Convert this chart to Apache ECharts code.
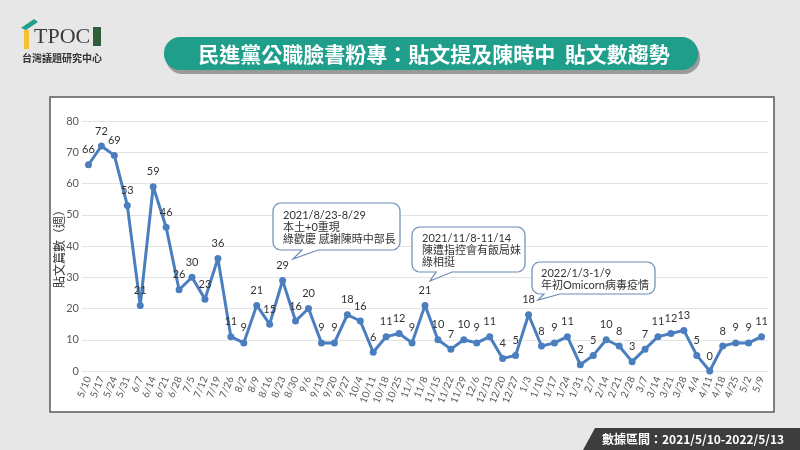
<!DOCTYPE html>
<html>
<head>
<meta charset="utf-8">
<script src="https://cdn.jsdelivr.net/npm/echarts@6/dist/echarts.min.js"></script>
<style>html,body{margin:0;padding:0;background:#e7e7e7;}#c{width:800px;height:450px;}</style>
</head>
<body>
<div id="c"></div>
<script>
const categories = ['5/10','5/17','5/24','5/31','6/7','6/14','6/21','6/28','7/5','7/12','7/19','7/26','8/2','8/9','8/16','8/23','8/30','9/6','9/13','9/20','9/27','10/4','10/11','10/18','10/25','11/1','11/8','11/15','11/22','11/29','12/6','12/13','12/20','12/27','1/3','1/10','1/17','1/24','1/31','2/7','2/14','2/21','2/28','3/7','3/14','3/21','3/28','4/4','4/11','4/18','4/25','5/2','5/9'];
const posts = [66,72,69,53,21,59,46,26,30,23,36,11,9,21,15,29,16,20,9,9,18,16,6,11,12,9,21,10,7,10,9,11,4,5,18,8,9,11,2,5,10,8,3,7,11,12,13,5,0,8,9,9,11];
const yTicks = [0,10,20,30,40,50,60,70,80];
const titleText = '民進黨公職臉書粉專：貼文提及陳時中  貼文數趨勢';
const yName = '貼文篇數（週）';
const footerText = '數據區間：2021/5/10-2022/5/13';
const notes = [
  ['2021/8/23-8/29','本土+0重現','綠歡慶 感謝陳時中部長'],
  ['2021/11/8-11/14','陳遭指控會有飯局妹','綠相挺'],
  ['2022/1/3-1/9','年初Omicorn病毒疫情']
];

const FONT = "Lato, 'Noto Sans CJK TC', sans-serif";

function arcPts(cx,cy,r,a0,a1){
  const pts=[]; const n=6;
  for(let k=0;k<=n;k++){const a=a0+(a1-a0)*k/n; pts.push([cx+r*Math.cos(a), cy+r*Math.sin(a)]);}
  return pts;
}
function callout(x,y,w,h,r,b1,b2,tx,ty){
  const P=Math.PI; let pts=[];
  pts = pts.concat(arcPts(x+r,y+r,r,P,1.5*P));
  pts = pts.concat(arcPts(x+w-r,y+r,r,1.5*P,2*P));
  pts = pts.concat(arcPts(x+w-r,y+h-r,r,0,0.5*P));
  pts.push([b2,y+h],[tx,ty],[b1,y+h]);
  pts = pts.concat(arcPts(x+r,y+h-r,r,0.5*P,P));
  return pts;
}
const boxes = [
  {x:273,y:203,w:127,h:47,b1:302,b2:318,tx:293,ty:259,t:283,ly:215},
  {x:412,y:227,w:113,h:45,b1:436,b2:452,tx:430,ty:281,t:422,ly:238},
  {x:532,y:262,w:123,h:32,b1:544,b2:560,tx:538,ty:300,t:541,ly:273}
];
const graphics = [
  {type:'rect', z:-10, shape:{x:50,y:97,width:724,height:315}, style:{fill:'#ffffff', stroke:'#5a5a5a', lineWidth:1.5}},
  {type:'rect', z:-5, shape:{x:166,y:41,width:534,height:33,r:16}, style:{fill:'#9a9a9a'}},
  {type:'rect', z:-4, shape:{x:164,y:37,width:534,height:33,r:16}, style:{fill:'#1f9e8b'}},
  {type:'text', z:-3, x:434, y:54, style:{text:titleText, fill:'#ffffff', font:"bold 21px 'Noto Sans CJK TC', sans-serif", align:'center', verticalAlign:'middle'}},
  {type:'polygon', shape:{points:[[21,28],[34,19],[38,22],[26,30]]}, style:{fill:'#1fa08a'}},
  {type:'rect', shape:{x:24,y:30,width:5,height:19}, style:{fill:'#f1c232'}},
  {type:'text', x:34, y:37, style:{text:'TPOC', fill:'#3a3a3a', font:"22px 'Liberation Serif', serif", verticalAlign:'middle'}},
  {type:'rect', shape:{x:93,y:27,width:8,height:19}, style:{fill:'#2e5e3a'}},
  {type:'text', x:22, y:58, style:{text:'台灣議題研究中心', fill:'#333333', font:"bold 10px 'Noto Sans CJK TC', sans-serif", verticalAlign:'middle'}},
  {type:'polygon', shape:{points:[[595,428],[800,428],[800,450],[583,450]]}, style:{fill:'#3d3d3d'}},
  {type:'text', x:602, y:439, style:{text:footerText, fill:'#ffffff', font:"bold 12px 'Noto Sans CJK TC', sans-serif", verticalAlign:'middle'}}
];
boxes.forEach((b,i)=>{
  graphics.push({type:'polygon', z:100, shape:{points:callout(b.x,b.y,b.w,b.h,8,b.b1,b.b2,b.tx,b.ty)}, style:{fill:'#ffffff', stroke:'#6a8cb5', lineWidth:1.2}});
  notes[i].forEach((line,j)=>{
    graphics.push({type:'text', z:101, x:b.t, y:b.ly+j*12, style:{text:line, fill:'#333333', font:"11px " + FONT, verticalAlign:'middle'}});
  });
});

const chart = echarts.init(document.getElementById('c'));
chart.setOption({
  backgroundColor:'#e7e7e7',
  animation:false,
  grid:{left:82, right:32, top:121, bottom:79},
  xAxis:{
    type:'category', data:categories, boundaryGap:true,
    axisLine:{show:false}, axisTick:{show:false},
    axisLabel:{interval:0, rotate:68, fontSize:10, color:'#595959', fontFamily:FONT, margin:6}
  },
  yAxis:{
    type:'value', min:yTicks[0], max:yTicks[yTicks.length-1], interval:10,
    name:yName, nameLocation:'middle', nameGap:17, nameRotate:90, nameMoveOverlap:false,
    nameTextStyle:{fontSize:12, color:'#333333', fontFamily:"'Noto Sans CJK TC', sans-serif"},
    axisLine:{show:false}, axisTick:{show:false},
    axisLabel:{fontSize:11, color:'#595959', fontFamily:FONT, margin:3},
    splitLine:{lineStyle:{color:'#e3e3e3', width:1}}
  },
  series:[{
    type:'line', data:posts,
    lineStyle:{color:'#4a7ebf', width:3},
    itemStyle:{color:'#4a7ebf'},
    symbol:'circle', symbolSize:7,
    label:{show:true, position:'top', distance:6, fontSize:11, color:'#333333', fontFamily:FONT}
  }],
  graphic:graphics
});
</script>
</body>
</html>
